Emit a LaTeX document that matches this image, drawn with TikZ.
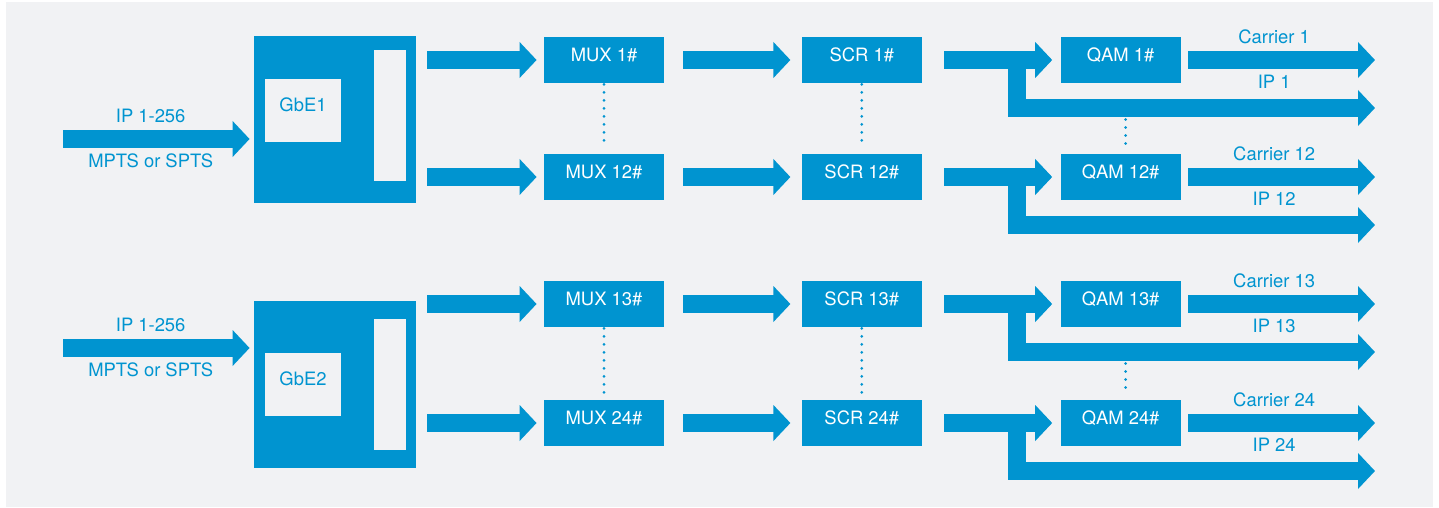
\documentclass[tikz,border=0pt]{standalone}
\usepackage{fontspec}
\setmainfont{TeX Gyre Heros}
\usetikzlibrary{positioning,arrows.meta}
\definecolor{ndblue}{RGB}{0,148,208}
\definecolor{panelgray}{RGB}{241,242,244}

\begin{document}
\begin{tikzpicture}[x=0.5pt, y=-0.5pt,
			font=\fontsize{9.2}{11}\selectfont,
			block/.style={rectangle, fill=ndblue, text=white, inner sep=0pt, minimum width=60pt, minimum height=23pt, text height=6.6pt, text depth=5.5pt},
			gbe/.style={rectangle, fill=ndblue, inner sep=0pt, minimum width=81pt, minimum height=83.5pt},
			port/.style={rectangle, fill=panelgray, text=ndblue, inner sep=0pt, minimum width=38pt, minimum height=31.5pt, text height=6.6pt, text depth=5.5pt},
			slot/.style={rectangle, fill=panelgray, inner sep=0pt, minimum width=16pt, minimum height=65.5pt},
			note/.style={text=ndblue, inner sep=0pt, outer sep=0pt, text height=6.6pt, text depth=0pt},
			fat/.style={draw=ndblue, line width=9pt, -{Triangle[width=17.5pt, length=8.5pt]}},
			dotline/.style={draw=ndblue, line width=1.5pt, line cap=round, dash pattern=on 0pt off 4pt}
			]
			
			% background panel
			\useasboundingbox (0,0) rectangle (1439,508);
			\fill[panelgray] (6,2) rectangle (1433,507);
			
			% GbE1 card with port and slot
			\node[gbe] (gbe1) at (335,119.5) {};
			\node[port, anchor=north west] (gbe1in) at ([xshift=5.5pt,yshift=-21.5pt]gbe1.north west) {GbE1};
			\node[slot, anchor=north east] (gbe1out) at ([xshift=-5pt,yshift=-7pt]gbe1.north east) {};
			
			% GbE2 card with port and slot
			\node[gbe] (gbe2) at (335,384.5) {};
			\node[port, anchor=north west] (gbe2in) at ([xshift=5.5pt,yshift=-26pt]gbe2.north west) {GbE2};
			\node[slot, anchor=north east] (gbe2out) at ([xshift=-5pt,yshift=-9pt]gbe2.north east) {};
			
			% MUX / SCR / QAM chains
			\node[block] (mux1) at (604,60) {MUX 1\#};
			\node[block, right=68.5pt of mux1] (scr1) {SCR 1\#};
			\node[block, right=69pt of scr1] (qam1) {QAM 1\#};
			
			\node[block] (mux12) at (604,177) {MUX 12\#};
			\node[block, right=68.5pt of mux12] (scr12) {SCR 12\#};
			\node[block, right=69pt of scr12] (qam12) {QAM 12\#};
			
			\node[block] (mux13) at (604,304) {MUX 13\#};
			\node[block, right=68.5pt of mux13] (scr13) {SCR 13\#};
			\node[block, right=69pt of scr13] (qam13) {QAM 13\#};
			
			\node[block] (mux24) at (604,423) {MUX 24\#};
			\node[block, right=68.5pt of mux24] (scr24) {SCR 24\#};
			\node[block, right=69pt of scr24] (qam24) {QAM 24\#};
			
			% free ends of the outputs
			\coordinate (in1) at (63,139);
			\coordinate (in2) at (63,348);
			\coordinate[right=97pt of qam1.east] (car1);
			\coordinate[below=24pt of car1] (ip1);
			\coordinate[right=97pt of qam12.east] (car12);
			\coordinate[below=24pt of car12] (ip12);
			\coordinate[right=97pt of qam13.east] (car13);
			\coordinate[below=24pt of car13] (ip13);
			\coordinate[right=97pt of qam24.east] (car24);
			\coordinate[below=24pt of car24] (ip24);
			
			% dotted "..." between channels
			\draw[dotline, shorten <=0.5pt, shorten >=3pt] (mux1.south) -- (mux12.north);
			\draw[dotline, shorten <=0.5pt, shorten >=3pt] (scr1.south) -- (scr12.north);
			\draw[dotline, shorten <=18pt, shorten >=3pt] ([xshift=2.5pt]qam1.south) -- ([xshift=2.5pt]qam12.north);
			\draw[dotline, shorten <=0.5pt, shorten >=3pt] (mux13.south) -- (mux24.north);
			\draw[dotline, shorten <=0.5pt, shorten >=3pt] (scr13.south) -- (scr24.north);
			\draw[dotline, shorten <=18pt, shorten >=3pt] ([xshift=2.5pt]qam13.south) -- ([xshift=2.5pt]qam24.north);
			
			% inputs
			\draw[fat, shorten >=2pt] (in1) -- node[note, pos=0.46, above=8.2pt]{IP 1-256} node[note, pos=0.46, below=7.5pt]{MPTS or SPTS} (gbe1.west |- in1);
			\draw[fat, shorten >=2pt] (in2) -- node[note, pos=0.46, above=8.2pt]{IP 1-256} node[note, pos=0.46, below=7.5pt]{MPTS or SPTS} (gbe2.west |- in2);
			
			% GbE to MUX
			\draw[fat, shorten <=5.5pt, shorten >=3.5pt] (gbe1.east |- mux1.west) -- (mux1.west);
			\draw[fat, shorten <=5.5pt, shorten >=3.5pt] (gbe1.east |- mux12.west) -- (mux12.west);
			\draw[fat, shorten <=5.5pt, shorten >=3.5pt] (gbe2.east |- mux13.west) -- (mux13.west);
			\draw[fat, shorten <=5.5pt, shorten >=3.5pt] (gbe2.east |- mux24.west) -- (mux24.west);
			
			% MUX to SCR to QAM
			\draw[fat, shorten <=9.5pt, shorten >=5.5pt] (mux1.east) -- (scr1.west);
			\draw[fat, shorten <=9.5pt, shorten >=5.5pt] (mux12.east) -- (scr12.west);
			\draw[fat, shorten <=9.5pt, shorten >=5.5pt] (mux13.east) -- (scr13.west);
			\draw[fat, shorten <=9.5pt, shorten >=5.5pt] (mux24.east) -- (scr24.west);
			\draw[fat, shorten <=11pt, shorten >=4pt] (scr1.east) -- (qam1.west);
			\draw[fat, shorten <=11pt, shorten >=4pt] (scr12.east) -- (qam12.west);
			\draw[fat, shorten <=11pt, shorten >=4pt] (scr13.east) -- (qam13.west);
			\draw[fat, shorten <=11pt, shorten >=4pt] (scr24.east) -- (qam24.west);
			
			% IP branches past the QAM
			\draw[fat] ([xshift=-21.5pt]qam1.west) |- (ip1);
			\draw[fat] ([xshift=-21.5pt]qam12.west) |- (ip12);
			\draw[fat] ([xshift=-21.5pt]qam13.west) |- (ip13);
			\draw[fat] ([xshift=-21.5pt]qam24.west) |- (ip24);
			
			% carriers out
			\draw[fat, shorten <=3.5pt] (qam1.east) -- node[note, pos=0.48, above=8.2pt]{Carrier 1} node[note, pos=0.48, below=7.5pt]{IP 1} (car1);
			\draw[fat, shorten <=3.5pt] (qam12.east) -- node[note, pos=0.48, above=8.2pt]{Carrier 12} node[note, pos=0.48, below=7.5pt]{IP 12} (car12);
			\draw[fat, shorten <=3.5pt] (qam13.east) -- node[note, pos=0.48, above=8.2pt]{Carrier 13} node[note, pos=0.48, below=7.5pt]{IP 13} (car13);
			\draw[fat, shorten <=3.5pt] (qam24.east) -- node[note, pos=0.48, above=8.2pt]{Carrier 24} node[note, pos=0.48, below=7.5pt]{IP 24} (car24);
			
		\end{tikzpicture}
\end{document}
